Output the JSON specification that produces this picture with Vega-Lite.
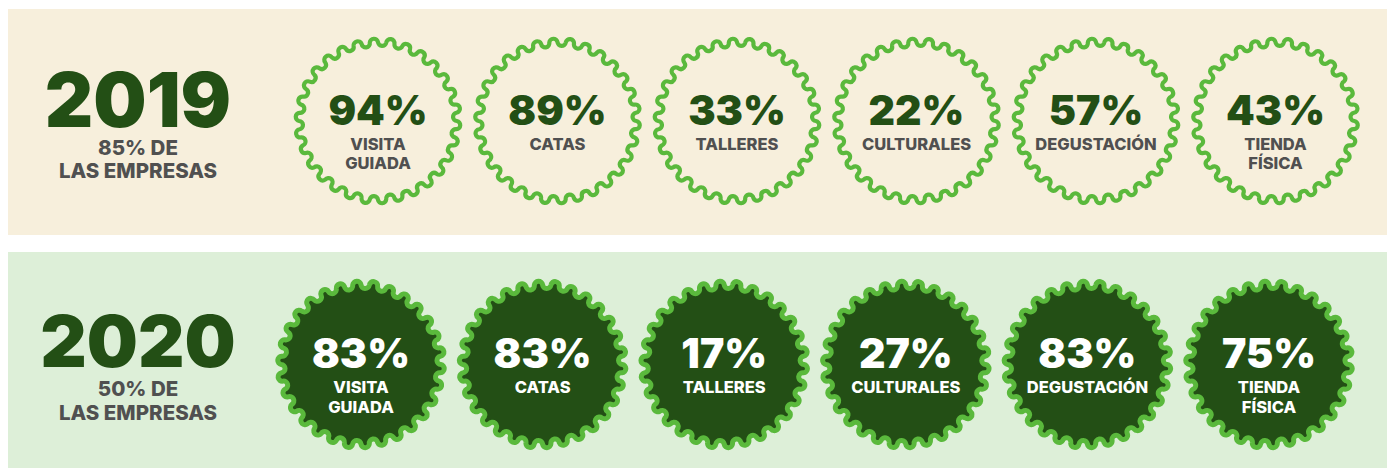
{
  "$schema": "https://vega.github.io/schema/vega-lite/v6.json",
  "background": "white",
  "padding": {"left": 8, "top": 9, "right": 8, "bottom": 0},
  "spacing": 17,
  "config": {
    "view": {"stroke": null},
    "text": {"font": "Inter", "fontWeight": 900},
    "point": {"shape": "M0.95 0A0.05 0.05 0 0 1 0.945 0.099A0.05 0.05 0 0 0 0.929 0.198A0.05 0.05 0 0 1 0.904 0.294A0.05 0.05 0 0 0 0.868 0.386A0.05 0.05 0 0 1 0.823 0.475A0.05 0.05 0 0 0 0.769 0.558A0.05 0.05 0 0 1 0.706 0.636A0.05 0.05 0 0 0 0.636 0.706A0.05 0.05 0 0 1 0.558 0.769A0.05 0.05 0 0 0 0.475 0.823A0.05 0.05 0 0 1 0.386 0.868A0.05 0.05 0 0 0 0.294 0.904A0.05 0.05 0 0 1 0.198 0.929A0.05 0.05 0 0 0 0.099 0.945A0.05 0.05 0 0 1 0 0.95A0.05 0.05 0 0 0 -0.099 0.945A0.05 0.05 0 0 1 -0.198 0.929A0.05 0.05 0 0 0 -0.294 0.904A0.05 0.05 0 0 1 -0.386 0.868A0.05 0.05 0 0 0 -0.475 0.823A0.05 0.05 0 0 1 -0.558 0.769A0.05 0.05 0 0 0 -0.636 0.706A0.05 0.05 0 0 1 -0.706 0.636A0.05 0.05 0 0 0 -0.769 0.558A0.05 0.05 0 0 1 -0.823 0.475A0.05 0.05 0 0 0 -0.868 0.386A0.05 0.05 0 0 1 -0.904 0.294A0.05 0.05 0 0 0 -0.929 0.198A0.05 0.05 0 0 1 -0.945 0.099A0.05 0.05 0 0 0 -0.95 0A0.05 0.05 0 0 1 -0.945 -0.099A0.05 0.05 0 0 0 -0.929 -0.198A0.05 0.05 0 0 1 -0.904 -0.294A0.05 0.05 0 0 0 -0.868 -0.386A0.05 0.05 0 0 1 -0.823 -0.475A0.05 0.05 0 0 0 -0.769 -0.558A0.05 0.05 0 0 1 -0.706 -0.636A0.05 0.05 0 0 0 -0.636 -0.706A0.05 0.05 0 0 1 -0.558 -0.769A0.05 0.05 0 0 0 -0.475 -0.823A0.05 0.05 0 0 1 -0.386 -0.868A0.05 0.05 0 0 0 -0.294 -0.904A0.05 0.05 0 0 1 -0.198 -0.929A0.05 0.05 0 0 0 -0.099 -0.945A0.05 0.05 0 0 1 0 -0.95A0.05 0.05 0 0 0 0.099 -0.945A0.05 0.05 0 0 1 0.198 -0.929A0.05 0.05 0 0 0 0.294 -0.904A0.05 0.05 0 0 1 0.386 -0.868A0.05 0.05 0 0 0 0.475 -0.823A0.05 0.05 0 0 1 0.558 -0.769A0.05 0.05 0 0 0 0.636 -0.706A0.05 0.05 0 0 1 0.706 -0.636A0.05 0.05 0 0 0 0.769 -0.558A0.05 0.05 0 0 1 0.823 -0.475A0.05 0.05 0 0 0 0.868 -0.386A0.05 0.05 0 0 1 0.904 -0.294A0.05 0.05 0 0 0 0.929 -0.198A0.05 0.05 0 0 1 0.945 -0.099A0.05 0.05 0 0 0 0.95 0Z"}
  },
  "vconcat": [
    {
      "width": 1379,
      "height": 226,
      "view": {"fill": "#f7efdc", "stroke": null},
      "resolve": {"scale": {"x": "independent"}},
      "layer": [
        {
          "data": {"values": [{"year": "2019", "share": "85% DE\nLAS EMPRESAS"}]},
          "encoding": {
            "x": {"field": "year", "type": "nominal", "axis": null, "scale": {"type": "band", "range": [0, 260], "padding": 0}}
          },
          "layer": [
            {
              "mark": {"type": "text", "fontSize": 75, "color": "#234f15", "baseline": "alphabetic", "align": "center", "dy": 5},
              "encoding": {"text": {"field": "year"}}
            },
            {
              "mark": {"type": "text", "fontWeight": 800, "fontSize": 20.5, "color": "#505050", "baseline": "alphabetic", "align": "center", "lineBreak": "\n", "lineHeight": 23, "dy": 33},
              "encoding": {"text": {"field": "share"}}
            }
          ]
        },
        {
          "data": {"values": [
            {"activity": "VISITA GUIADA", "pct": "94%", "label": "VISITA\nGUIADA"},
            {"activity": "CATAS", "pct": "89%", "label": "CATAS"},
            {"activity": "TALLERES", "pct": "33%", "label": "TALLERES"},
            {"activity": "CULTURALES", "pct": "22%", "label": "CULTURALES"},
            {"activity": "DEGUSTACIÓN", "pct": "57%", "label": "DEGUSTACIÓN"},
            {"activity": "TIENDA FÍSICA", "pct": "43%", "label": "TIENDA\nFÍSICA"}
          ]},
          "encoding": {
            "x": {"field": "activity", "type": "nominal", "sort": null, "axis": null, "scale": {"type": "point", "range": [370, 1267.5], "padding": 0}}
          },
          "layer": [
            {
              "mark": {"type": "point", "filled": false, "stroke": "#5ab93c", "strokeWidth": 4.2, "size": 27556, "opacity": 1, "yOffset": -1}
            },
            {
              "mark": {"type": "text", "fontSize": 41, "color": "#234f15", "baseline": "alphabetic", "align": "center", "dy": 3},
              "encoding": {"text": {"field": "pct"}}
            },
            {
              "mark": {"type": "text", "fontWeight": 800, "fontSize": 16.5, "color": "#505050", "baseline": "alphabetic", "align": "center", "lineBreak": "\n", "lineHeight": 18.5, "dy": 28},
              "encoding": {"text": {"field": "label"}}
            }
          ]
        }
      ]
    },
    {
      "width": 1379,
      "height": 216,
      "view": {"fill": "#ddefd8", "stroke": null},
      "resolve": {"scale": {"x": "independent"}},
      "layer": [
        {
          "data": {"values": [{"year": "2020", "share": "50% DE\nLAS EMPRESAS"}]},
          "encoding": {
            "x": {"field": "year", "type": "nominal", "axis": null, "scale": {"type": "band", "range": [0, 260], "padding": 0}}
          },
          "layer": [
            {
              "mark": {"type": "text", "fontSize": 72, "color": "#234f15", "baseline": "alphabetic", "align": "center", "dy": 7},
              "encoding": {"text": {"field": "year"}}
            },
            {
              "mark": {"type": "text", "fontWeight": 800, "fontSize": 20.5, "color": "#505050", "baseline": "alphabetic", "align": "center", "lineBreak": "\n", "lineHeight": 23.5, "dy": 36},
              "encoding": {"text": {"field": "share"}}
            }
          ]
        },
        {
          "data": {"values": [
            {"activity": "VISITA GUIADA", "pct": "83%", "label": "VISITA\nGUIADA"},
            {"activity": "CATAS", "pct": "83%", "label": "CATAS"},
            {"activity": "TALLERES", "pct": "17%", "label": "TALLERES"},
            {"activity": "CULTURALES", "pct": "27%", "label": "CULTURALES"},
            {"activity": "DEGUSTACIÓN", "pct": "83%", "label": "DEGUSTACIÓN"},
            {"activity": "TIENDA FÍSICA", "pct": "75%", "label": "TIENDA\nFÍSICA"}
          ]},
          "encoding": {
            "x": {"field": "activity", "type": "nominal", "sort": null, "axis": null, "scale": {"type": "point", "range": [353, 1261], "padding": 0}}
          },
          "layer": [
            {
              "mark": {"type": "point", "filled": true, "fill": "#234f15", "stroke": "#5ab93c", "strokeWidth": 5, "size": 28224, "opacity": 1, "yOffset": 4.5}
            },
            {
              "mark": {"type": "text", "fontSize": 41, "color": "#ffffff", "baseline": "alphabetic", "align": "center", "dy": 8},
              "encoding": {"text": {"field": "pct"}}
            },
            {
              "mark": {"type": "text", "fontWeight": 800, "fontSize": 16.5, "color": "#ffffff", "baseline": "alphabetic", "align": "center", "lineBreak": "\n", "lineHeight": 20, "dy": 33},
              "encoding": {"text": {"field": "label"}}
            }
          ]
        }
      ]
    }
  ]
}
